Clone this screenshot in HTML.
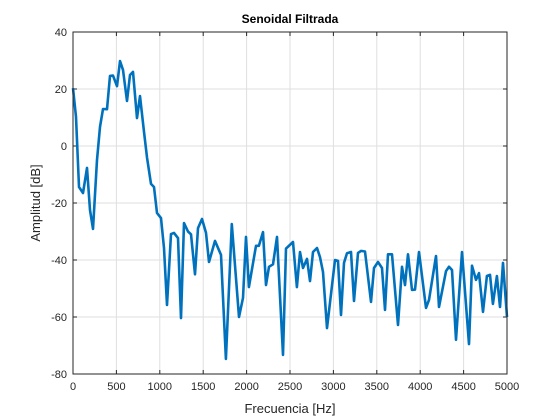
<!DOCTYPE html>
<html><head><meta charset="utf-8"><style>
html,body{margin:0;padding:0;background:#fff;width:560px;height:420px;overflow:hidden}
svg text{font-family:"Liberation Sans",sans-serif;fill:#262626}
</style></head><body>
<svg id="chart" width="560" height="420" viewBox="0 0 560 420">
<rect width="560" height="420" fill="#fff"/>
<text x="290" y="23" text-anchor="middle" font-size="12" font-weight="bold" style="fill:#000">Senoidal Filtrada</text>
<g id="grid"></g><g id="ticks"></g>
<polyline id="line" fill="none" stroke="#0072BD" stroke-width="2.6" stroke-linejoin="round"/>
<rect x="73" y="32" width="434" height="342" fill="none" stroke="#262626" stroke-width="1"/>
<text x="290" y="413" text-anchor="middle" font-size="13">Frecuencia [Hz]</text>
<text transform="translate(40,203) rotate(-90)" text-anchor="middle" font-size="13">Amplitud [dB]</text>
</svg>
<script>
const freqs=[0,35,69,115,161,196,230,276,311,346,392,426,461,507,541,576,622,657,691,737,772,818,853,899,933,968,1014,1048,1083,1129,1164,1210,1244,1279,1325,1360,1406,1440,1486,1532,1567,1636,1705,1762,1830,1912,1958,1993,2027,2108,2142,2189,2223,2258,2304,2350,2419,2454,2535,2580,2615,2650,2696,2730,2765,2811,2846,2880,2926,3018,3053,3088,3122,3157,3203,3237,3283,3318,3364,3433,3468,3514,3560,3595,3629,3675,3744,3790,3825,3859,3906,3940,3986,4067,4101,4182,4217,4297,4332,4366,4412,4481,4562,4597,4643,4677,4723,4769,4804,4838,4884,4919,4954,5000];
const ampl=[20.3,10.2,-14.4,-16.5,-7.7,-22.5,-29.1,-4.9,6.7,13,12.9,24.6,24.7,21,29.8,26.7,15.8,24.9,26,9.8,17.5,5,-4,-13.3,-14.4,-23.5,-25.3,-35.8,-55.8,-30.9,-30.5,-32.3,-60.4,-27,-30,-31,-45,-28.8,-25.6,-30.5,-40.7,-33.3,-38.2,-74.7,-27.4,-60,-53.3,-31.9,-49.5,-35,-35,-30.2,-48.8,-42.4,-41.5,-31.9,-73.3,-36,-33.7,-49.5,-37.2,-42.8,-39.6,-47.4,-37.2,-35.8,-39,-44.2,-63.9,-40,-40.3,-59.3,-41,-37.6,-37.2,-54.4,-37.5,-36.8,-37,-54.7,-42.8,-40.7,-42.8,-57.5,-38,-38,-62.8,-42.4,-48.8,-38,-50.5,-50.4,-37.2,-56.8,-54,-38.6,-56.5,-43.9,-42.4,-43.5,-68,-37.2,-69.5,-42,-47,-44.6,-58.2,-45.6,-45.2,-55.4,-45.6,-56.5,-41,-60];
const xTicks=[0,500,1000,1500,2000,2500,3000,3500,4000,4500,5000];
const yTicks=[40,20,0,-20,-40,-60,-80];
const X=v=>73+(v-0)/5000*434, Y=v=>32+(40-v)/120*342;
const NS="http://www.w3.org/2000/svg";
const grid=document.getElementById('grid'), ticks=document.getElementById('ticks');
function mk(tag,attrs,parent){const e=document.createElementNS(NS,tag);for(const k in attrs)e.setAttribute(k,attrs[k]);parent.appendChild(e);return e;}
xTicks.forEach(t=>{
 const g=mk('line',{x1:X(t),x2:X(t),y1:32,y2:374,stroke:'#dfdfdf','stroke-width':1},grid);
 
 
 mk('line',{x1:X(t),x2:X(t),y1:374,y2:370,stroke:'#262626'},ticks);
 mk('line',{x1:X(t),x2:X(t),y1:32,y2:36,stroke:'#262626'},ticks);
 const tx=mk('text',{x:X(t),y:390,'text-anchor':'middle','font-size':11},ticks);
 tx.textContent=t;
 
 
});
yTicks.forEach(t=>{
 const g=mk('line',{x1:73,x2:507,y1:Y(t),y2:Y(t),stroke:'#dfdfdf','stroke-width':1},grid);
 
 
 mk('line',{x1:73,x2:77,y1:Y(t),y2:Y(t),stroke:'#262626'},ticks);
 mk('line',{x1:503,x2:507,y1:Y(t),y2:Y(t),stroke:'#262626'},ticks);
 const tx=mk('text',{x:67,y:Y(t)+4,'text-anchor':'end','font-size':11},ticks);
 tx.textContent=t;
 
 
});
document.getElementById('line').setAttribute('points',freqs.map((f,i)=>X(f).toFixed(1)+','+Y(ampl[i]).toFixed(1)).join(' '));
</script>
</body></html>
